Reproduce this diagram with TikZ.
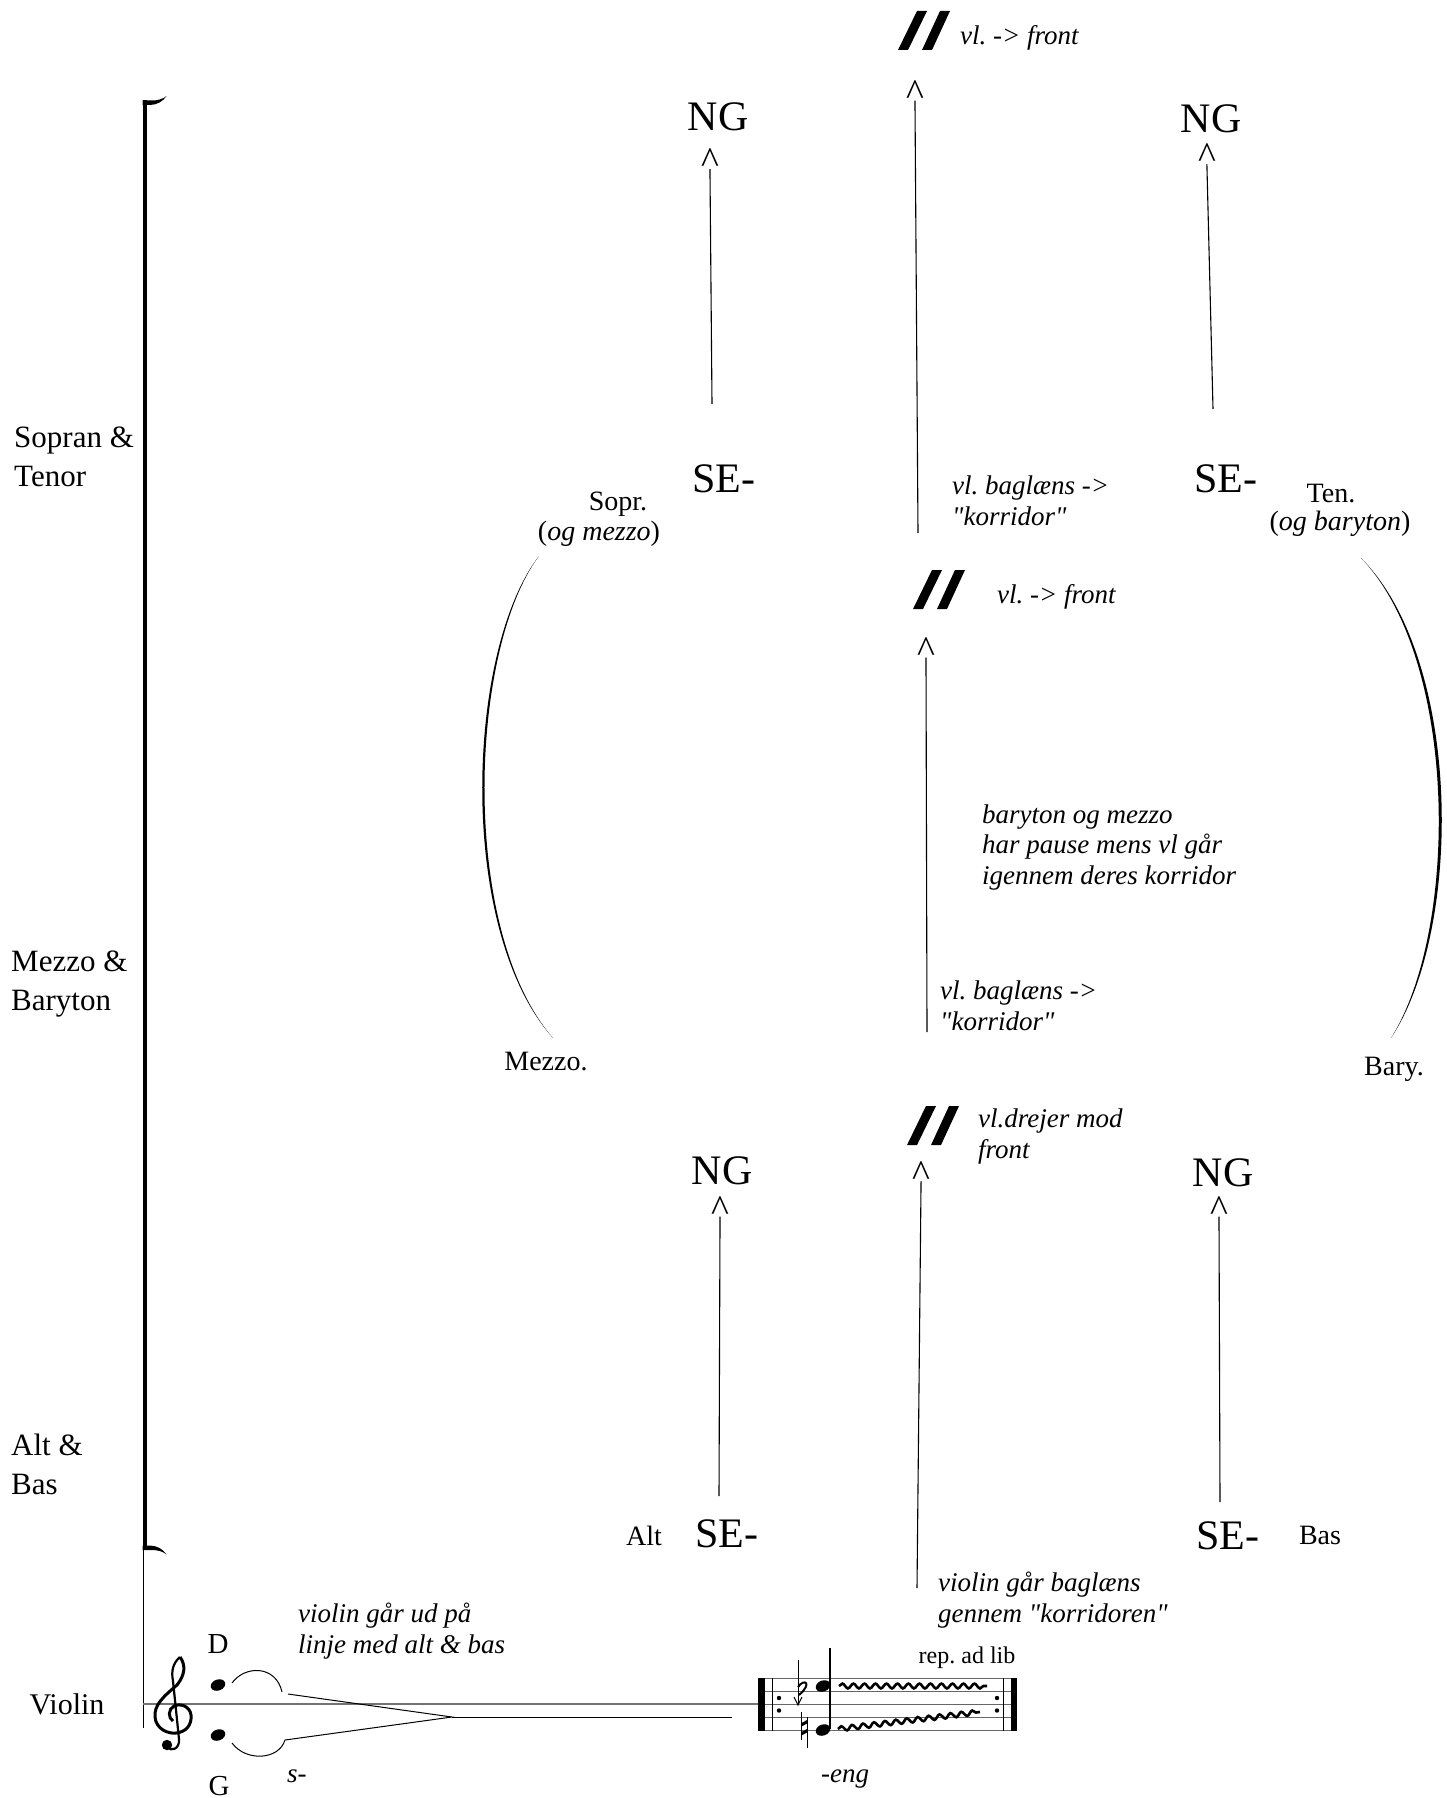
\documentclass[tikz,border=0pt]{standalone}
\usepackage{fontspec}
\setmainfont{Liberation Serif}[Ligatures=TeXOff]
\usetikzlibrary{decorations.pathmorphing}
\frenchspacing
\begin{document}
\begin{tikzpicture}[x=1pt,y=-1pt,
  lbl/.style={inner sep=0pt, anchor=base west, font=\fontsize{31}{39}\selectfont, align=left},
  big/.style={inner sep=0pt, anchor=base, font=\fontsize{42}{46}\selectfont},
  rom/.style={inner sep=0pt, anchor=base, font=\fontsize{28}{32}\selectfont},
  note/.style={inner sep=0pt, anchor=base west, font=\fontsize{27}{30.5}\selectfont\itshape, align=left},
  caret/.style={inner sep=0pt, anchor=base, font=\fontsize{38}{38}\selectfont},
  conn/.style={line width=1.1pt, shorten >=-5pt},
  staffline/.style={line width=1.1pt, black!55},
  trill/.style={line width=2.6pt, decorate, decoration={snake, segment length=11pt, amplitude=2.4pt}},
  dslash/.pic={
    \fill (0,0) -- (10,0) -- (29,-39) -- (19,-39) -- cycle;
    \fill (24,0) -- (34,0) -- (52,-39) -- (42,-39) -- cycle;}
]
\useasboundingbox (0,0) rectangle (1447,1798);

% ---------- left labels and bracket ----------
\node[lbl] (lst) at (14,486) {Sopran \&\\Tenor};
\node[lbl] (lmb) at (11,1010) {Mezzo \&\\Baryton};
\node[lbl] (lab) at (11,1494) {Alt \&\\Bas};
\node[rom, font=\fontsize{30}{32}\selectfont] (lvl) at (67,1714) {Violin};

\fill (142.5,100.5) rectangle (146.8,1550);
\fill (142.5,105) -- (142.5,100.5) -- (152,100.5) .. controls (158,100.5) and (163,99) .. (166.5,96)
      .. controls (163,101.5) and (157,104.8) .. (150,105) -- cycle;
\fill (142.5,1545.5) -- (142.5,1550) -- (152,1550) .. controls (158,1550) and (163,1551.5) .. (166.5,1554.5)
      .. controls (163,1549) and (157,1545.7) .. (150,1545.5) -- cycle;
\draw[line width=1.2pt] (143.5,1548) -- (143.5,1728);

% ---------- top section ----------
\pic at (898,50) {dslash};
\node[note] (vf1) at (960,45) {vl. -> front};
\node[caret] (ct) at (915,105.5) {\textasciicircum};
\coordinate (lt) at (918,533);
\draw[conn] (lt) -- (ct.south);
\node[note] (bg1) at (952,525) {vl. baglæns ->\\"korridor"};

\node[big] (ng1) at (718,131) {NG};
\node[caret] (c1) at (710,174) {\textasciicircum};
\coordinate (l1) at (712,404);
\draw[conn] (l1) -- (c1.south);
\node[big] (se1) at (724,492) {SE-};

\node[big] (ng2) at (1211,133) {NG};
\node[caret] (c2) at (1207,169) {\textasciicircum};
\coordinate (l2) at (1213,409);
\draw[conn] (l2) -- (c2.south);
\node[big] (se2) at (1226,492) {SE-};

\node[rom] (sopr) at (618,510) {Sopr.};
\node[rom] (sopr2) at (599,540) {(\textit{og mezzo})};
\node[rom] (ten) at (1331,502) {Ten.};
\node[rom] (ten2) at (1340,530) {(\textit{og baryton})};

% arcs
\fill (539,556) .. controls (466,650) and (456,930) .. (553,1038)
      .. controls (459,930) and (469,650) .. (539,556) -- cycle;
\fill (1361,558) .. controls (1463,660) and (1463,930) .. (1391,1038)
      .. controls (1459,930) and (1459,660) .. (1361,558) -- cycle;
\node[rom] (mezzo) at (546,1070) {Mezzo.};
\node[rom] (bary) at (1394,1075) {Bary.};

% ---------- middle section ----------
\pic at (913,609) {dslash};
\node[note] (vf2) at (997,603) {vl. -> front};
\node[caret] (cm) at (926,662.5) {\textasciicircum};
\coordinate (lm) at (927,1032);
\draw[conn] (lm) -- (cm.south);
\node[note] (bm) at (982,884) {baryton og mezzo\\har pause mens vl går\\igennem deres korridor};
\node[note] (bg2) at (940,1030) {vl. baglæns ->\\"korridor"};

% ---------- bottom section ----------
\pic at (907,1145) {dslash};
\node[note] (dr) at (978,1158) {vl.drejer mod\\front};
\node[caret] (cb) at (921,1186) {\textasciicircum};
\coordinate (lb) at (917,1588);
\draw[conn] (lb) -- (cb.south);

\node[big] (ng3) at (722,1184) {NG};
\node[caret] (c3) at (720,1221.5) {\textasciicircum};
\coordinate (l3) at (719,1496);
\draw[conn] (l3) -- (c3.south);
\node[big] (se3) at (727,1547) {SE-};
\node[rom] (alt) at (644,1545) {Alt};

\node[big] (ng4) at (1223,1186) {NG};
\node[caret] (c4) at (1219,1221.5) {\textasciicircum};
\coordinate (l4) at (1220,1502);
\draw[conn] (l4) -- (c4.south);
\node[big] (se4) at (1228,1549) {SE-};
\node[rom] (bas) at (1320,1544) {Bas};

\node[note] (vb) at (938,1622) {violin går baglæns\\gennem "korridoren"};
\node[note] (vu) at (298,1653) {violin går ud på\\linje med alt \& bas};

% ---------- violin staff ----------
\draw[staffline] (143,1704) -- (758,1704);
\node[rom, font=\fontsize{29}{32}\selectfont] (dd) at (218,1653) {D};
\node[rom, font=\fontsize{29}{32}\selectfont] (gg) at (219,1795) {G};

% treble clef
\begin{scope}[shift={(153,1657)}]
  \draw[line width=2.2pt] (27,0) .. controls (20,6) and (18,14) .. (20,24) -- (26,82)
        .. controls (27,92) and (18,95) .. (14,90);
  \fill (14,88) circle (5.2);
  \draw[line width=3pt] (27,0) .. controls (33,8) and (32,18) .. (24,28)
        .. controls (10,40) and (1,48) .. (2,60)
        .. controls (3,72) and (15,77) .. (23,76)
        .. controls (33,75) and (39,68) .. (38,58)
        .. controls (37,49) and (27,46) .. (21,49)
        .. controls (15,52) and (15,61) .. (20,64);
\end{scope}

% noteheads and ties
\fill[rotate around={20:(218,1685)}] (218,1685) ellipse [x radius=7.5, y radius=5.5];
\fill[rotate around={20:(218,1735)}] (218,1735) ellipse [x radius=7.5, y radius=5.5];
\draw[line width=1pt] (232,1683) .. controls (245,1665) and (276,1665) .. (282,1692);
\draw[line width=1pt] (232,1743) .. controls (246,1762) and (279,1760) .. (285,1740);
\coordinate (ua) at (288,1694);
\coordinate (la) at (285,1740);
\coordinate (mp) at (452,1717);
\coordinate (me) at (732,1717);
\draw[line width=1pt] (ua) -- (mp) -- (la);
\draw[line width=1pt] (mp) -- (me);
\node[note, anchor=base west] (ss) at (287,1782) {s-};

% repeat box
\foreach \yy in {1678,1691,1704,1717,1730}
  \draw[line width=1pt, black!60] (758,\yy) -- (1017,\yy);
\fill (758,1678) rectangle (764.5,1730.5);
\draw[line width=1pt] (772,1678) -- (772,1730.5);
\draw[line width=1pt] (1003,1678) -- (1003,1730.5);
\fill (1010.5,1678) rectangle (1017,1730.5);
\foreach \xx in {779,997} {
  \fill (\xx,1698) circle (2.2);
  \fill (\xx,1710.5) circle (2.2);
}
% flat with arrow
\draw[line width=1pt] (798,1660) -- (798,1705);
\draw[line width=1pt] (794,1697) -- (798,1705) -- (802,1697);
\draw[line width=2pt] (798,1687) .. controls (804,1678) and (813,1683) .. (799,1695);
% natural
\draw[line width=1pt] (801.5,1712) -- (801.5,1740);
\draw[line width=1pt] (807,1717) -- (807,1748);
\fill (801.5,1723) -- (807,1720) -- (807,1723.5) -- (801.5,1726.5) -- cycle;
\fill (801.5,1732) -- (807,1729) -- (807,1732.5) -- (801.5,1735.5) -- cycle;
% notes
\fill[rotate around={20:(823,1686)}] (823,1686) ellipse [x radius=7.5, y radius=5.5];
\fill[rotate around={20:(823,1730)}] (823,1730) ellipse [x radius=7.5, y radius=5.5];
\draw[line width=1.2pt] (830,1648) -- (830,1729);
% trills
\draw[trill] (839,1686) -- (987,1686);
\draw[trill] (838,1729) -- (980,1712);
\node[rom, font=\fontsize{24}{28}\selectfont] (rep) at (967,1663) {rep. ad lib};
\node[note, anchor=base] (eng) at (845,1782) {-eng};
\end{tikzpicture}
\end{document}
